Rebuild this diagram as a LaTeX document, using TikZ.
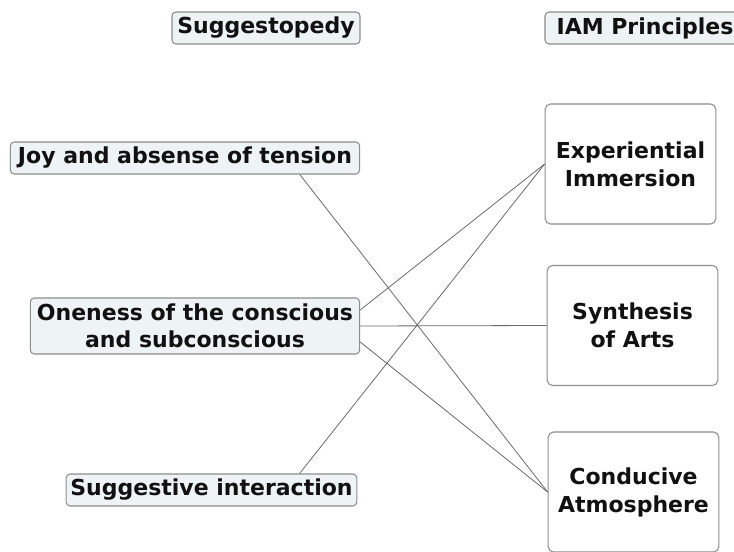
\documentclass[tikz,border=0pt]{standalone}
\usepackage{fontspec}
\setmainfont{DejaVu Sans}
\usepackage{xcolor}
\usepackage{tikz}
\usetikzlibrary{calc}
\definecolor{paleblue}{HTML}{EEF3F5}
\definecolor{rim}{HTML}{8E8E8E}
\definecolor{wire}{HTML}{6A6A6A}
\definecolor{ink}{HTML}{111111}

\begin{document}
\begin{tikzpicture}[x=0.75pt,y=-0.75pt,
  head/.style={draw=rim,fill=paleblue,rounded corners=3pt,line width=0.8pt,inner sep=0pt,
    text=ink,font=\bfseries\fontsize{16.5}{20}\selectfont,minimum height=24pt},
  leftbox/.style={head,align=center},
  rightbox/.style={draw=rim,fill=white,rounded corners=4pt,line width=0.8pt,inner sep=0pt,
    text=ink,font=\bfseries\fontsize{16.5}{21}\selectfont,align=center,
    minimum width=128pt,minimum height=90pt},
  link/.style={wire,line width=0.6pt}]
  \useasboundingbox (0,0) rectangle (734,552);
  % column heads
  \node[head,minimum width=141pt] (sug) at (266,28) {Suggestopedy};
  \node[head,minimum width=150pt] (iam) at (645,28) {IAM Principles};
  % left column
  \node[leftbox,minimum width=262pt] (joy)  at (185,158) {Joy and absense of tension};
  \node[leftbox,minimum width=247pt,minimum height=42pt] (one) at (195,326)
       {Oneness of the conscious\\and subconscious};
  \node[leftbox,minimum width=218pt] (sgi)  at (211.5,490) {Suggestive interaction};
  % right column
  \node[rightbox] (exp) at (630.5,164) {Experiential\\Immersion};
  \node[rightbox] (syn) at (632.5,325.5) {Synthesis\\of Arts};
  \node[rightbox] (con) at (633.5,492) {Conducive\\Atmosphere};
  % connectors
  \coordinate (joyO) at ($(joy.south west)+(290,0)$);
  \coordinate (sgiO) at ($(sgi.north west)+(234,0)$);
  \draw[link] (joyO) -- (con.west);
  \draw[link] ($(one.east)+(0,-16)$) -- (exp.west);
  \draw[link] (one.east) -- (syn.west);
  \draw[link] ($(one.east)+(0,16)$) -- (con.west);
  \draw[link] (sgiO) -- (exp.west);
\end{tikzpicture}
\end{document}
